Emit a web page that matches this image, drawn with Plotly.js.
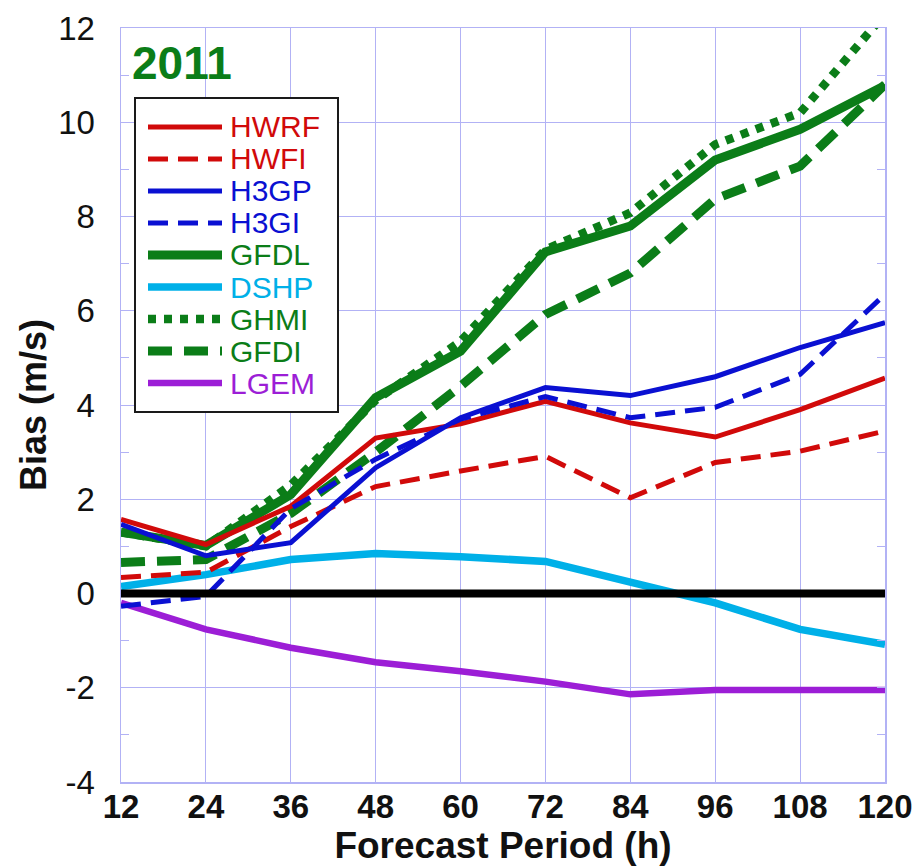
<!DOCTYPE html>
<html>
<head>
<meta charset="utf-8">
<script src="https://cdn.plot.ly/plotly-3.0.1.min.js"></script>
<style>html,body{margin:0;padding:0;background:#fff;}#chart{width:923px;height:866px;}</style>
</head>
<body>
<div id="chart"></div>
<script>
// ---- data ----
var hours = [12, 24, 36, 48, 60, 72, 84, 96, 108, 120];
var HWRF = [1.57, 1.04, 1.85, 3.3, 3.6, 4.08, 3.62, 3.32, 3.9, 4.57];
var HWFI = [0.34, 0.45, 1.42, 2.27, 2.6, 2.91, 2.03, 2.78, 3.02, 3.45];
var H3GP = [1.47, 0.8, 1.08, 2.67, 3.73, 4.37, 4.2, 4.6, 5.22, 5.75];
var H3GI = [-0.27, -0.06, 1.8, 2.85, 3.7, 4.18, 3.73, 3.95, 4.65, 6.35];
var GFDL = [1.3, 1.02, 2.1, 4.16, 5.14, 7.25, 7.8, 9.2, 9.85, 10.78];
var DSHP = [0.15, 0.4, 0.72, 0.85, 0.78, 0.68, 0.24, -0.2, -0.76, -1.08];
var GHMI = [1.3, 1.0, 2.3, 4.1, 5.35, 7.3, 8.08, 9.53, 10.2, 12.3];
var GFDI = [0.66, 0.72, 1.7, 3.0, 4.4, 5.92, 6.8, 8.37, 9.07, 10.8];
var LGEM = [-0.2, -0.76, -1.15, -1.46, -1.65, -1.87, -2.14, -2.05, -2.05, -2.05];
var yTicks = [-4, -2, 0, 2, 4, 6, 8, 10, 12];
var yearLabel = '2011';

var seriesNames = ['HWRF', 'HWFI', 'H3GP', 'H3GI', 'GFDL', 'DSHP', 'GHMI', 'GFDI', 'LGEM'];
var seriesValues = [HWRF, HWFI, H3GP, H3GI, GFDL, DSHP, GHMI, GFDI, LGEM];

// ---- styles ----
var RED = '#d10a0a', BLUE = '#0a10d2', GREEN = '#0b7d18', CYAN = '#00b0e8', PURPLE = '#9c1ed6';
var styles = [
  {color: RED, width: 5, dash: 'solid'},
  {color: RED, width: 5, dash: '20px,10px'},
  {color: BLUE, width: 5, dash: 'solid'},
  {color: BLUE, width: 5, dash: '20px,10px'},
  {color: GREEN, width: 9, dash: 'solid'},
  {color: CYAN, width: 7.5, dash: 'solid'},
  {color: GREEN, width: 8.5, dash: '8px,8px'},
  {color: GREEN, width: 9, dash: '24px,12px'},
  {color: PURPLE, width: 6.5, dash: 'solid'}
];
var drawOrder = [5, 8, 7, 6, 4, 1, 0, 3, 2];

var traces = drawOrder.map(function (i) {
  return {
    x: hours, y: seriesValues[i], name: seriesNames[i], type: 'scatter', mode: 'lines',
    line: {color: styles[i].color, width: styles[i].width, dash: styles[i].dash},
    showlegend: false, hoverinfo: 'x+y+name'
  };
});

// plot area in px: x 121..885, y 28..782
var L = 121, R = 885, T = 28, B = 782, W = 923, H = 866;
function px(x) { return (x - L) / (R - L); }
function py(y) { return (B - y) / (B - T); }

var FONT = 'Liberation Sans, Arial, sans-serif';
var GRID = 'rgb(178,178,245)';
var shapes = [
  {type: 'line', xref: 'paper', yref: 'y', x0: 0, x1: 1, y0: 0, y1: 0, layer: 'above',
   line: {color: '#000', width: 8}},
  {type: 'rect', xref: 'paper', yref: 'paper', x0: px(135), x1: px(338), y0: py(412), y1: py(98),
   layer: 'above', fillcolor: '#fff', line: {color: '#1a1a1a', width: 2}}
];
var annotations = [
  {xref: 'paper', yref: 'paper', x: px(130), y: py(35), xanchor: 'left', yanchor: 'top', showarrow: false,
   text: '<b>' + yearLabel + '</b>', font: {family: FONT, size: 46, color: GREEN}}
];
seriesNames.forEach(function (n, i) {
  var rowY = 127 + 32 * i;
  shapes.push({type: 'line', xref: 'paper', yref: 'paper', layer: 'above',
    x0: px(148), x1: px(222), y0: py(rowY), y1: py(rowY),
    line: {color: styles[i].color, width: styles[i].width, dash: styles[i].dash}});
  annotations.push({xref: 'paper', yref: 'paper', x: px(228), y: py(rowY), xanchor: 'left', yanchor: 'middle',
    showarrow: false, text: n, font: {family: FONT, size: 30, color: styles[i].color}});
});

var layout = {
  width: W, height: H,
  margin: {l: L, r: W - R, t: T, b: H - B, pad: 0},
  paper_bgcolor: '#fff', plot_bgcolor: '#fff',
  showlegend: false,
  font: {family: FONT, color: '#111'},
  xaxis: {
    range: [12, 120], tickvals: hours, ticktext: hours.map(String),
    showgrid: true, gridcolor: GRID, gridwidth: 1, zeroline: false,
    showline: true, linecolor: GRID, linewidth: 1.5, mirror: true,
    ticks: '', ticklabelstandoff: -5,
    tickfont: {family: FONT, size: 33, color: '#111', weight: 'bold'},
    title: {text: '<b>Forecast Period (h)</b>', standoff: 0,
            font: {family: FONT, size: 37, color: '#111'}}
  },
  yaxis: {
    range: [-4, 12], tickvals: yTicks, ticktext: yTicks.map(String),
    showgrid: true, gridcolor: GRID, gridwidth: 1, zeroline: false,
    showline: true, linecolor: GRID, linewidth: 1.5, mirror: 'ticks',
    ticks: 'inside', ticklen: 8, tickcolor: GRID, ticklabelstandoff: 18,
    minor: {dtick: 1, ticks: 'inside', ticklen: 8, tickcolor: GRID, showgrid: false},
    tickfont: {family: FONT, size: 33, color: '#111'},
    title: {text: '<b>Bias (m/s)</b>', standoff: 0,
            font: {family: FONT, size: 36, color: '#111'}}
  },
  shapes: shapes,
  annotations: annotations
};

Plotly.newPlot('chart', traces, layout, {displayModeBar: false, staticPlot: true});
</script>
</body>
</html>
